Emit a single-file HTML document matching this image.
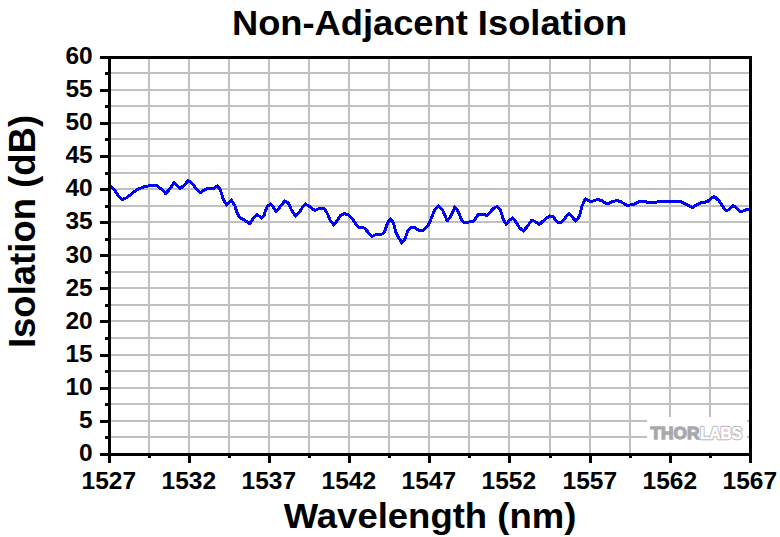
<!DOCTYPE html>
<html><head><meta charset="utf-8"><style>
html,body{margin:0;padding:0;background:#fff;width:780px;height:537px;overflow:hidden}
svg{display:block}
text{font-family:"Liberation Sans",sans-serif;font-weight:bold;fill:#000}
</style></head><body>
<svg width="780" height="537" viewBox="0 0 780 537">
<rect width="780" height="537" fill="#fff"/>
<g shape-rendering="crispEdges">
<rect x="148" y="56" width="2" height="397" fill="#c0c0c0"/>
<rect x="188" y="56" width="2" height="397" fill="#c0c0c0"/>
<rect x="228" y="56" width="2" height="397" fill="#c0c0c0"/>
<rect x="268" y="56" width="2" height="397" fill="#c0c0c0"/>
<rect x="308" y="56" width="2" height="397" fill="#c0c0c0"/>
<rect x="348" y="56" width="2" height="397" fill="#c0c0c0"/>
<rect x="388" y="56" width="2" height="397" fill="#c0c0c0"/>
<rect x="428" y="56" width="2" height="397" fill="#c0c0c0"/>
<rect x="468" y="56" width="2" height="397" fill="#c0c0c0"/>
<rect x="508" y="56" width="2" height="397" fill="#c0c0c0"/>
<rect x="549" y="56" width="2" height="397" fill="#c0c0c0"/>
<rect x="589" y="56" width="2" height="397" fill="#c0c0c0"/>
<rect x="629" y="56" width="2" height="397" fill="#c0c0c0"/>
<rect x="669" y="56" width="2" height="397" fill="#c0c0c0"/>
<rect x="709" y="56" width="2" height="397" fill="#c0c0c0"/>
<rect x="108" y="72" width="641" height="2" fill="#c0c0c0"/>
<rect x="108" y="89" width="641" height="2" fill="#c0c0c0"/>
<rect x="108" y="105" width="641" height="2" fill="#c0c0c0"/>
<rect x="108" y="122" width="641" height="2" fill="#c0c0c0"/>
<rect x="108" y="138" width="641" height="2" fill="#c0c0c0"/>
<rect x="108" y="155" width="641" height="2" fill="#c0c0c0"/>
<rect x="108" y="172" width="641" height="2" fill="#c0c0c0"/>
<rect x="108" y="188" width="641" height="2" fill="#c0c0c0"/>
<rect x="108" y="205" width="641" height="2" fill="#c0c0c0"/>
<rect x="108" y="221" width="641" height="2" fill="#c0c0c0"/>
<rect x="108" y="238" width="641" height="2" fill="#c0c0c0"/>
<rect x="108" y="254" width="641" height="2" fill="#c0c0c0"/>
<rect x="108" y="271" width="641" height="2" fill="#c0c0c0"/>
<rect x="108" y="287" width="641" height="2" fill="#c0c0c0"/>
<rect x="108" y="304" width="641" height="2" fill="#c0c0c0"/>
<rect x="108" y="320" width="641" height="2" fill="#c0c0c0"/>
<rect x="108" y="337" width="641" height="2" fill="#c0c0c0"/>
<rect x="108" y="354" width="641" height="2" fill="#c0c0c0"/>
<rect x="108" y="370" width="641" height="2" fill="#c0c0c0"/>
<rect x="108" y="387" width="641" height="2" fill="#c0c0c0"/>
<rect x="108" y="403" width="641" height="2" fill="#c0c0c0"/>
<rect x="108" y="420" width="641" height="2" fill="#c0c0c0"/>
<rect x="108" y="436" width="641" height="2" fill="#c0c0c0"/>
<rect x="647" y="417" width="100" height="35" fill="#fff"/>
</g>
<g font-size="34.9"><text transform="translate(429.5,35) scale(1.04,1)" text-anchor="middle">Non-Adjacent Isolation</text></g>
<g font-size="36.5"><text transform="translate(430,528) scale(1.04,1)" font-size="35.1" text-anchor="middle">Wavelength (nm)</text>
<text transform="translate(35.4,231.5) rotate(-90)" text-anchor="middle">Isolation (dB)</text></g>
<g font-size="24.5">
<text x="92.7" y="64.0" text-anchor="end">60</text>
<text x="92.7" y="97.1" text-anchor="end">55</text>
<text x="92.7" y="130.2" text-anchor="end">50</text>
<text x="92.7" y="163.2" text-anchor="end">45</text>
<text x="92.7" y="196.3" text-anchor="end">40</text>
<text x="92.7" y="229.4" text-anchor="end">35</text>
<text x="92.7" y="262.5" text-anchor="end">30</text>
<text x="92.7" y="295.6" text-anchor="end">25</text>
<text x="92.7" y="328.7" text-anchor="end">20</text>
<text x="92.7" y="361.8" text-anchor="end">15</text>
<text x="92.7" y="394.8" text-anchor="end">10</text>
<text x="92.7" y="427.9" text-anchor="end">5</text>
<text x="92.7" y="461.0" text-anchor="end">0</text>
<text x="108.8" y="489" text-anchor="middle">1527</text>
<text x="188.8" y="489" text-anchor="middle">1532</text>
<text x="268.8" y="489" text-anchor="middle">1537</text>
<text x="348.8" y="489" text-anchor="middle">1542</text>
<text x="428.8" y="489" text-anchor="middle">1547</text>
<text x="508.8" y="489" text-anchor="middle">1552</text>
<text x="589.8" y="489" text-anchor="middle">1557</text>
<text x="669.8" y="489" text-anchor="middle">1562</text>
<text x="749.8" y="489" text-anchor="middle">1567</text>
</g>
<g>
<text x="650.5" y="439.4" font-size="17.3" style="fill:#a9a9ad;stroke:#a9a9ad;stroke-width:1.3;stroke-linejoin:miter" textLength="49" lengthAdjust="spacingAndGlyphs">THOR</text>
<text x="700" y="439.4" font-size="17.3" style="fill:#fff;stroke:#b4b4b8;stroke-width:2.6;stroke-linejoin:round" textLength="42" lengthAdjust="spacingAndGlyphs">LABS</text>
<text x="700" y="439.4" font-size="17.3" style="fill:#fff;stroke:#fff;stroke-width:0.7;stroke-linejoin:round" textLength="42" lengthAdjust="spacingAndGlyphs">LABS</text>
</g>
<polyline points="110.3,186.0 114.3,189.5 118.3,195.5 121.8,199.5 125.3,198.5 130.3,195.0 136.3,190.0 143.3,187.0 149.3,185.7 156.8,185.7 161.3,189.0 165.8,193.7 169.3,189.5 174.10000000000002,182.7 180.3,188.5 184.3,185.0 188.3,180.5 192.3,183.5 196.3,189.0 200.3,192.5 206.3,189.0 213.3,188.7 217.3,186.0 220.3,189.5 223.3,199.5 226.8,205.0 231.3,200.0 234.8,205.5 236.8,212.1 240.0,218.1 242.8,219.0 246.0,221.3 249.70000000000002,223.7 252.5,219.5 254.9,216.7 257.2,214.8 260.0,216.7 261.8,218.1 264.2,214.8 265.3,211.1 267.3,206.5 270.3,204.0 273.3,207.0 276.3,211.5 280.3,206.5 284.8,201.0 288.3,203.0 291.3,209.5 295.3,216.0 299.3,212.5 302.3,207.5 305.3,204.0 310.3,207.0 314.8,210.5 320.3,208.0 324.3,208.5 327.3,213.5 330.3,220.5 333.8,225.0 337.3,220.5 340.3,215.5 344.3,213.5 348.3,215.0 352.3,219.0 356.3,224.5 359.3,227.5 364.3,228.0 368.3,232.5 371.8,236.5 377.3,234.0 381.3,234.5 384.3,232.5 387.3,223.5 390.3,219.0 393.3,222.5 396.3,233.5 401.8,243.0 405.3,238.5 407.8,230.5 411.8,227.0 415.3,228.0 419.3,230.5 423.3,230.5 427.8,226.0 431.3,218.5 434.8,209.5 438.3,206.0 442.3,209.5 447.3,221.0 451.3,215.5 454.8,207.0 458.3,211.5 461.3,219.5 464.8,223.0 469.3,222.0 473.8,221.0 478.3,214.5 483.3,214.0 486.8,215.5 490.3,212.0 493.3,208.5 496.8,206.5 500.3,209.5 503.3,219.5 506.3,224.5 509.3,220.5 512.3,218.0 515.3,221.0 519.3,227.5 523.3,231.0 527.3,226.5 531.8,220.0 535.3,221.5 539.3,224.5 544.3,220.0 549.3,216.0 553.3,217.0 557.3,222.0 560.3,223.0 564.3,219.0 568.8,213.5 572.3,217.0 575.8,221.0 579.3,216.5 581.8,206.5 585.3,199.0 589.3,201.0 593.3,201.0 597.3,199.5 601.3,200.5 607.3,204.0 611.3,202.0 617.3,200.5 621.3,202.0 627.3,205.5 633.3,204.5 634.3,204.0 639.3,201.7 645.3,201.7 650.3,203.0 654.3,202.7 660.3,201.0 667.3,201.0 670.3,201.7 681.3,201.7 686.3,204.5 692.3,207.5 696.3,205.0 701.3,202.7 707.3,201.7 710.3,199.0 714.3,196.5 719.3,201.0 722.3,205.5 725.3,210.0 728.3,210.0 733.3,205.5 737.3,208.5 740.8,212.0 745.3,210.0 750.8,208.5" fill="none" stroke="#0000ff" stroke-width="3" stroke-linejoin="round" shape-rendering="crispEdges"/>
<g shape-rendering="crispEdges">
<rect x="100" y="56" width="652" height="3" fill="#000"/>
<rect x="100" y="453" width="652" height="3" fill="#000"/>
<rect x="108" y="56" width="3" height="407" fill="#000"/>
<rect x="749" y="56" width="3" height="407" fill="#000"/>
<rect x="100" y="56" width="8" height="3" fill="#000"/>
<rect x="105" y="72" width="3" height="3" fill="#000"/>
<rect x="100" y="89" width="8" height="3" fill="#000"/>
<rect x="105" y="105" width="3" height="3" fill="#000"/>
<rect x="100" y="122" width="8" height="3" fill="#000"/>
<rect x="105" y="138" width="3" height="3" fill="#000"/>
<rect x="100" y="155" width="8" height="3" fill="#000"/>
<rect x="105" y="172" width="3" height="3" fill="#000"/>
<rect x="100" y="188" width="8" height="3" fill="#000"/>
<rect x="105" y="205" width="3" height="3" fill="#000"/>
<rect x="100" y="221" width="8" height="3" fill="#000"/>
<rect x="105" y="238" width="3" height="3" fill="#000"/>
<rect x="100" y="254" width="8" height="3" fill="#000"/>
<rect x="105" y="271" width="3" height="3" fill="#000"/>
<rect x="100" y="287" width="8" height="3" fill="#000"/>
<rect x="105" y="304" width="3" height="3" fill="#000"/>
<rect x="100" y="320" width="8" height="3" fill="#000"/>
<rect x="105" y="337" width="3" height="3" fill="#000"/>
<rect x="100" y="354" width="8" height="3" fill="#000"/>
<rect x="105" y="370" width="3" height="3" fill="#000"/>
<rect x="100" y="387" width="8" height="3" fill="#000"/>
<rect x="105" y="403" width="3" height="3" fill="#000"/>
<rect x="100" y="420" width="8" height="3" fill="#000"/>
<rect x="105" y="436" width="3" height="3" fill="#000"/>
<rect x="100" y="453" width="8" height="3" fill="#000"/>
<rect x="108" y="456" width="3" height="7" fill="#000"/>
<rect x="148" y="456" width="3" height="2" fill="#000"/>
<rect x="188" y="456" width="3" height="7" fill="#000"/>
<rect x="228" y="456" width="3" height="2" fill="#000"/>
<rect x="268" y="456" width="3" height="7" fill="#000"/>
<rect x="308" y="456" width="3" height="2" fill="#000"/>
<rect x="348" y="456" width="3" height="7" fill="#000"/>
<rect x="388" y="456" width="3" height="2" fill="#000"/>
<rect x="428" y="456" width="3" height="7" fill="#000"/>
<rect x="468" y="456" width="3" height="2" fill="#000"/>
<rect x="508" y="456" width="3" height="7" fill="#000"/>
<rect x="549" y="456" width="3" height="2" fill="#000"/>
<rect x="589" y="456" width="3" height="7" fill="#000"/>
<rect x="629" y="456" width="3" height="2" fill="#000"/>
<rect x="669" y="456" width="3" height="7" fill="#000"/>
<rect x="709" y="456" width="3" height="2" fill="#000"/>
<rect x="749" y="456" width="3" height="7" fill="#000"/>
</g>
</svg>
</body></html>
